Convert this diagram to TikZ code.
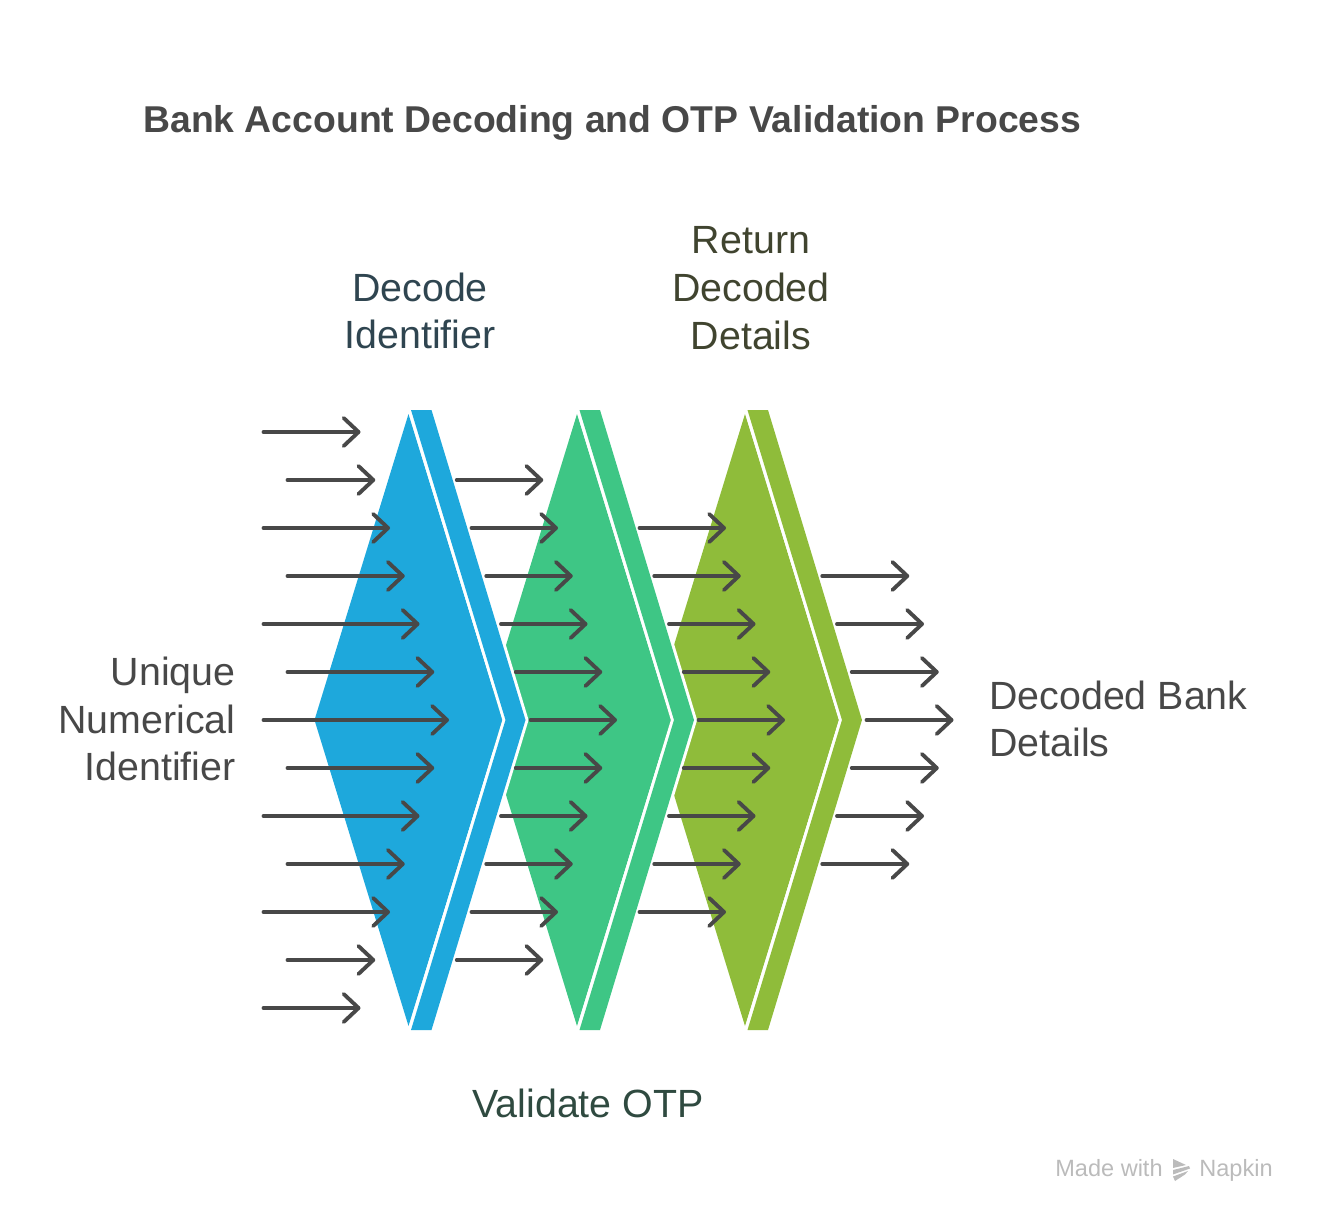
\documentclass[tikz,border=0pt]{standalone}
\usepackage{fontspec}
\setmainfont{Liberation Sans}
\usetikzlibrary{arrows.meta}
\definecolor{inkgrey}{HTML}{484848}
\definecolor{bluefill}{HTML}{1EA8DC}
\definecolor{greenfill}{HTML}{3EC685}
\definecolor{olivefill}{HTML}{8FBC3A}
\definecolor{bluetext}{HTML}{2F4550}
\definecolor{greentext}{HTML}{2F4A40}
\definecolor{olivetext}{HTML}{40442F}
\definecolor{marklight}{HTML}{BBBBBB}
\begin{document}
\begin{tikzpicture}[
    x=0.02cm, y=-0.02cm,
    tag/.style={inner sep=0pt, font=\fontsize{22.4pt}{27.2pt}\selectfont},
    heading/.style={inner sep=0pt, anchor=west, font=\fontsize{21.25pt}{26pt}\selectfont\bfseries, text=inkgrey},
    credit/.style={inner sep=0pt, anchor=base west, text=marklight, font=\fontsize{13.4pt}{15pt}\selectfont},
    gem/.style={fill=#1},
    band/.style={fill=#1, preaction={draw=white, line width=3.4pt}},
    arrow/.style={-{Straight Barb[length=8.5pt, width=16pt, round]}, line width=2.2pt, line cap=round, draw=inkgrey}
]
    \useasboundingbox (0,0) rectangle (1320,1224);

    % Chevrons, right one first so each band lies over the next diamond
    \foreach \xtop/\tint in {745/olivefill, 577/greenfill, 408.5/bluefill} {
        \fill[gem=\tint] (\xtop,414) -- (\xtop+94,720) -- (\xtop,1026) -- (\xtop-94,720) -- cycle;
        \path[band=\tint] (\xtop+2.5,410) -- (\xtop+23,410) -- (\xtop+117,720)
            -- (\xtop+23,1030) -- (\xtop+2.5,1030) -- (\xtop+97,720) -- cycle;
    }

    % Arrows
    \foreach \k in {-6,...,6} {
        \pgfmathsetmacro{\yrow}{720+48*\k}
        \pgfmathsetmacro{\xend}{449-14.75*abs(\k)}
        \pgfmathsetmacro{\xstart}{isodd(\k) ? 287.5 : 263.5}
        \coordinate (in\k) at (\xstart,\yrow);
        \coordinate (hit\k) at (\xend,\yrow);
        \draw[arrow] (in\k) -- (hit\k);
    }
    \foreach \k in {-5,...,5} {
        \pgfmathsetmacro{\yrow}{720+48*\k}
        \pgfmathsetmacro{\xstart}{530.5-14.75*abs(\k)}
        \coordinate (bluestart\k) at (\xstart,\yrow);
        \coordinate (blueend\k) at (\xstart+86.5,\yrow);
        \draw[arrow] (bluestart\k) -- (blueend\k);
    }
    \foreach \k in {-4,...,4} {
        \pgfmathsetmacro{\yrow}{720+48*\k}
        \pgfmathsetmacro{\xstart}{698.5-14.75*abs(\k)}
        \coordinate (greenstart\k) at (\xstart,\yrow);
        \coordinate (greenend\k) at (\xstart+86.5,\yrow);
        \draw[arrow] (greenstart\k) -- (greenend\k);
    }
    \foreach \k in {-3,...,3} {
        \pgfmathsetmacro{\yrow}{720+48*\k}
        \pgfmathsetmacro{\xstart}{866.5-14.75*abs(\k)}
        \coordinate (olivestart\k) at (\xstart,\yrow);
        \coordinate (oliveend\k) at (\xstart+87,\yrow);
        \draw[arrow] (olivestart\k) -- (oliveend\k);
    }

    % Title and labels
    \node[heading] (title) at (143,123) {Bank Account Decoding and OTP Validation Process};
    \node[tag, text=bluetext, align=center] (decode) at (420,311) {Decode\\Identifier};
    \node[tag, text=olivetext, align=center] (details) at (751,288) {Return\\Decoded\\Details};
    \node[tag, text=greentext] (otp) at (588,1103) {Validate OTP};
    \node[tag, text=inkgrey, align=right, anchor=east] (unique) at (236,719) {Unique\\Numerical\\Identifier};
    \node[tag, text=inkgrey, align=left, anchor=west] (bank) at (989,719) {Decoded Bank\\Details};

    % Napkin mark
    \node[credit] (made) at (1055,1176) {Made with};
    \node[credit] (napkin) at (1199,1176) {Napkin};
    \fill[marklight] (1173,1159) -- (1186,1165) -- (1173,1168) -- cycle;
    \fill[marklight] (1173,1170) -- (1189,1166) -- (1190,1168.5) -- (1173,1174.5) -- cycle;
    \fill[marklight] (1173,1176.5) -- (1188,1171) -- (1185,1174.5) -- (1175,1181) -- cycle;
\end{tikzpicture}
\end{document}
